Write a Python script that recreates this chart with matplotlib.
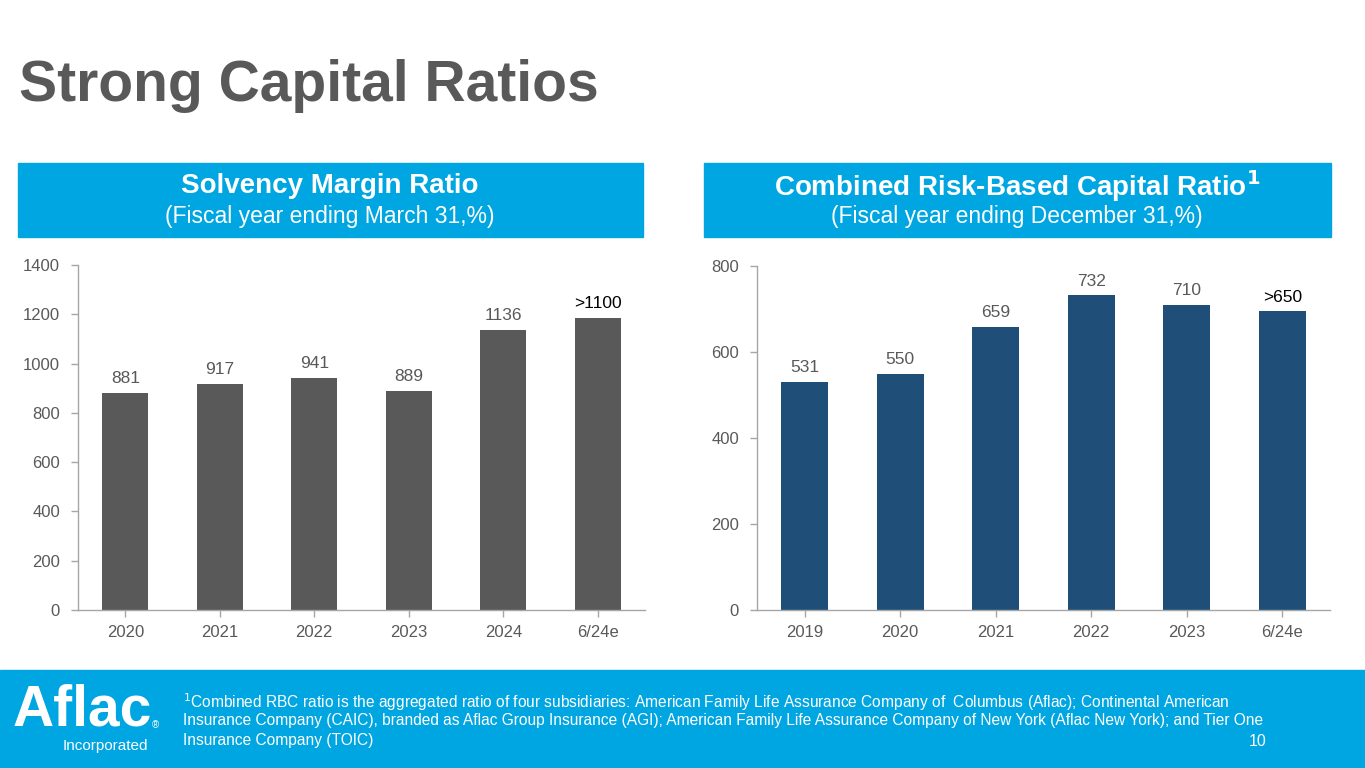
#!/usr/bin/env python3

import matplotlib
matplotlib.use('Agg')
import matplotlib.pyplot as plt
from matplotlib.patches import Rectangle

plt.rcParams['font.family'] = ['Liberation Sans', 'DejaVu Sans']

# Solvency margin ratio (left chart)
smr_years = ['2020', '2021', '2022', '2023', '2024', '6/24e']
smr_values = [881, 917, 941, 889, 1136, 1185]
smr_labels = ['881', '917', '941', '889', '1136', '>1100']
smr_ticks = [0, 200, 400, 600, 800, 1000, 1200, 1400]

# Combined risk-based capital ratio (right chart)
rbc_years = ['2019', '2020', '2021', '2022', '2023', '6/24e']
rbc_values = [531, 550, 659, 732, 710, 695]
rbc_labels = ['531', '550', '659', '732', '710', '>650']
rbc_ticks = [0, 200, 400, 600, 800]

BLUE = '#00A6E1'
GREY = '#595959'
W, H = 1365, 768

fig = plt.figure(figsize=(13.65, 7.68), dpi=100)
fig.patch.set_facecolor('white')


def px(x, y):
    # pixel coords (top-left origin) -> figure fraction
    return x / W, 1 - y / H


def rect(x0, y0, x1, y1, color):
    fig.patches.append(Rectangle((x0 / W, 1 - y1 / H), (x1 - x0) / W, (y1 - y0) / H,
                                 transform=fig.transFigure, color=color, zorder=0))


# title
fig.text(*px(19, 86), 'Strong Capital Ratios', fontsize=41, fontweight='bold',
         color=GREY, ha='left', va='center')

# header boxes
rect(18, 163, 643, 237, BLUE)
rect(704, 163, 1331, 237, BLUE)
fig.text(*px(330, 186), 'Solvency Margin Ratio', fontsize=20, fontweight='bold',
         color='white', ha='center', va='center')
fig.text(*px(330, 217), '(Fiscal year ending March 31,%)', fontsize=16.5,
         color='white', ha='center', va='center')
fig.text(*px(1017, 186), r'Combined Risk-Based Capital Ratio$^{\mathbf{1}}$', fontsize=20,
         fontweight='bold', color='white', ha='center', va='center')
fig.text(*px(1017, 217), '(Fiscal year ending December 31,%)', fontsize=16.5,
         color='white', ha='center', va='center')


def bar_chart(rect_px, cats, vals, labels, ticks, color, ymax, off):
    x0, y0, x1, y1 = rect_px
    ax = fig.add_axes([x0 / W, 1 - y1 / H, (x1 - x0) / W, (y1 - y0) / H])
    xs = range(len(cats))
    ax.bar(xs, vals, width=0.49, color=color)
    for i, (v, lab) in enumerate(zip(vals, labels)):
        c = 'black' if lab.startswith('>') else GREY
        ax.text(i, v + off, lab, ha='center', va='bottom', fontsize=12.5, color=c)
    ax.set_xlim(-0.5, len(cats) - 0.5)
    ax.set_ylim(0, ymax)
    ax.set_yticks(ticks)
    ax.set_xticks(list(xs))
    ax.set_xticklabels(cats)
    for s in ['top', 'right']:
        ax.spines[s].set_visible(False)
    for s in ['left', 'bottom']:
        ax.spines[s].set_color('#A6A6A6')
        ax.spines[s].set_linewidth(1)
    ax.tick_params(axis='both', colors='#A6A6A6', labelcolor=GREY, labelsize=12,
                   length=5, width=1)
    ax.tick_params(axis='x', pad=6)
    ax.tick_params(axis='y', pad=8)
    return ax


bar_chart((78, 265, 645, 610), smr_years, smr_values, smr_labels, smr_ticks,
          '#595959', 1400, 28)
bar_chart((757, 266, 1330, 610), rbc_years, rbc_values, rbc_labels, rbc_ticks,
          '#1F4E79', 800, 15)

# footer band
rect(0, 670, W, H, BLUE)
fig.text(*px(13, 711), 'Aflac', fontsize=41, fontweight='bold', color='white',
         ha='left', va='center')
fig.text(*px(152, 725), '®', fontsize=7, color='white', ha='left', va='center')
fig.text(*px(105, 746), 'Incorporated', fontsize=11, color='white', ha='center',
         va='center')

foot = [r'$^{1}$Combined RBC ratio is the aggregated ratio of four subsidiaries: American Family Life Assurance Company of  Columbus (Aflac); Continental American',
        'Insurance Company (CAIC), branded as Aflac Group Insurance (AGI); American Family Life Assurance Company of New York (Aflac New York); and Tier One',
        'Insurance Company (TOIC)']
for i, line in enumerate(foot):
    fig.text(*px(183, 702 + i * 19), line, fontsize=11.2, color='white',
             ha='left', va='center')
fig.text(*px(1258, 742), '10', fontsize=11.5, color='white', ha='center', va='center')

fig.savefig('out.png', dpi=100)
